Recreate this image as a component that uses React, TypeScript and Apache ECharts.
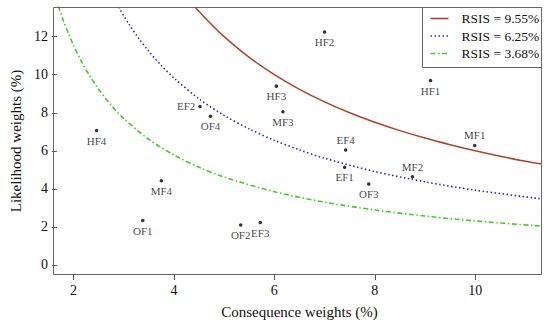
import React, { useEffect, useRef } from "react";
import * as echarts from "echarts";

// Risk factors: consequence weight (%) and likelihood weight (%)
const factorNames = ["HF1", "HF2", "HF3", "HF4", "MF1", "MF2", "MF3", "MF4", "EF1", "EF2", "EF3", "EF4", "OF1", "OF2", "OF3", "OF4"];
const consequence = [9.11, 7.0, 6.04, 2.46, 9.99, 8.75, 6.17, 3.75, 7.4, 4.52, 5.72, 7.42, 3.38, 5.33, 7.88, 4.73];
const likelihood = [9.7, 12.25, 9.4, 7.07, 6.28, 4.63, 8.05, 4.42, 5.14, 8.33, 2.23, 6.04, 2.33, 2.1, 4.25, 7.82];

// Iso-RSIS curves
const redX = [4.42, 4.7, 5.0, 5.5, 6.0, 6.5, 7.0, 7.5, 8.0, 8.5, 9.0, 9.5, 10.0, 10.5, 11.0, 11.33];
const redY = [13.56, 12.77, 12.0, 10.91, 10.0, 9.23, 8.57, 8.0, 7.5, 7.06, 6.67, 6.32, 6.0, 5.71, 5.45, 5.3];
const blueX = [2.9, 3.1, 3.3, 3.5, 3.75, 4.0, 4.5, 5.0, 5.5, 6.0, 6.5, 7.0, 8.0, 9.0, 10.0, 11.33];
const blueY = [13.55, 12.68, 11.91, 11.23, 10.48, 9.83, 8.73, 7.86, 7.15, 6.55, 6.05, 5.61, 4.91, 4.37, 3.93, 3.47];
const greenX = [1.7, 1.8, 1.9, 2.0, 2.15, 2.3, 2.5, 2.75, 3.0, 3.5, 4.0, 4.5, 5.0, 6.0, 7.0, 8.0, 9.0, 10.0, 11.33];
const greenY = [13.6, 12.84, 12.16, 11.55, 10.74, 10.04, 9.24, 8.4, 7.7, 6.6, 5.78, 5.13, 4.62, 3.85, 3.3, 2.89, 2.57, 2.31, 2.04];

const legendNames = ["RSIS = 9.55%", "RSIS = 6.25%", "RSIS = 3.68%"];
const xTicks = [2, 4, 6, 8, 10];
const yTicks = [0, 2, 4, 6, 8, 10, 12];

const labelAbove = new Set(["EF4", "MF2", "MF1"]);
const labelLeft = new Set(["EF2"]);

const FONT = "'Liberation Serif', 'Times New Roman', serif";
const FRAME = "#666666";
const RED = "#b0412a";
const BLUE = "#2a2ad0";
const GREEN = "#44cc22";
const BLUE_DASH = [1.5, 2.5];
const GREEN_DASH = [5, 2.5, 1.5, 2.5];

const GRID = { left: 53, right: 8, top: 7, bottom: 51 };
const W = 550;
const H = 326;

export default function App() {
  const ref = useRef<HTMLDivElement>(null);
  useEffect(() => {
    if (!ref.current) return;
    const chart = echarts.init(ref.current, undefined, { renderer: "svg" });
    const pts = factorNames.map((n, i) => ({
      name: n,
      value: [consequence[i], likelihood[i]],
      label: {
        position: labelLeft.has(n) ? "left" : labelAbove.has(n) ? "top" : "bottom",
      },
    }));
    const zip = (xs: number[], ys: number[]) => xs.map((x, i) => [x, ys[i]]);

    const legendColors = [RED, BLUE, GREEN];
    const legendDash: any[] = [null, BLUE_DASH, GREEN_DASH];
    const lx = 422.5;
    const ly = 7.5;
    const legendChildren: any[] = [
      {
        type: "rect",
        shape: { x: lx, y: ly, width: 119, height: 60 },
        style: { fill: "#fff", stroke: FRAME, lineWidth: 1 },
      },
    ];
    legendNames.forEach((name, i) => {
      const cy = ly + 11 + i * 17.5;
      legendChildren.push({
        type: "line",
        shape: { x1: lx + 8, y1: cy, x2: lx + 26, y2: cy },
        style: { stroke: legendColors[i], lineWidth: 1.6, lineDash: legendDash[i] || undefined },
      });
      legendChildren.push({
        type: "text",
        x: lx + 39,
        y: cy,
        style: {
          text: name,
          font: `13.5px ${FONT}`,
          fill: "#111",
          verticalAlign: "middle",
        },
      });
    });

    const x0 = GRID.left + 0.5;
    const y0 = GRID.top + 0.5;
    const x1 = W - GRID.right - 0.5;
    const y1 = H - GRID.bottom - 0.5;
    const frame = {
      type: "polyline",
      z: 90,
      shape: { points: [[x0, y0], [x1, y0], [x1, y1], [x0, y1], [x0, y0]] },
      style: { stroke: FRAME, lineWidth: 1, fill: null },
    };

    const baseAxisText = { fontFamily: FONT, fontSize: 14, color: "#111" };
    chart.setOption({
      animation: false,
      backgroundColor: "#fff",
      textStyle: { fontFamily: FONT },
      grid: { ...GRID },
      xAxis: {
        type: "value",
        min: 1.67,
        max: 11.33,
        name: "Consequence weights (%)",
        nameLocation: "middle",
        nameGap: 29,
        nameTextStyle: { fontFamily: FONT, fontSize: 15, color: "#111" },
        splitLine: { show: false },
        axisLine: { show: false, onZero: false },
        axisTick: { show: true, inside: false, length: 5, lineStyle: { color: "#555", width: 1 }, customValues: xTicks },
        axisLabel: { ...baseAxisText, margin: 8, customValues: xTicks },
      },
      yAxis: {
        type: "value",
        min: -0.53,
        max: 13.56,
        name: "Likelihood weights (%)",
        nameLocation: "middle",
        nameGap: 30,
        nameTextStyle: { fontFamily: FONT, fontSize: 15, color: "#111" },
        splitLine: { show: false },
        axisLine: { show: false, onZero: false },
        axisTick: { show: true, inside: false, length: 5, lineStyle: { color: "#555", width: 1 }, customValues: yTicks },
        axisLabel: { ...baseAxisText, margin: 9, customValues: yTicks },
      },
      graphic: [frame, { type: "group", z: 100, children: legendChildren }],
      series: [
        {
          name: legendNames[0],
          type: "line",
          data: zip(redX, redY),
          smooth: 0.3,
          symbol: "none",
          clip: true,
          lineStyle: { color: RED, width: 1.5, type: "solid" },
          itemStyle: { color: RED },
        },
        {
          name: legendNames[1],
          type: "line",
          data: zip(blueX, blueY),
          smooth: 0.3,
          symbol: "none",
          clip: true,
          lineStyle: { color: BLUE, width: 1.6, type: BLUE_DASH },
          itemStyle: { color: BLUE },
        },
        {
          name: legendNames[2],
          type: "line",
          data: zip(greenX, greenY),
          smooth: 0.3,
          symbol: "none",
          clip: true,
          lineStyle: { color: GREEN, width: 1.6, type: GREEN_DASH },
          itemStyle: { color: GREEN },
        },
        {
          type: "scatter",
          data: pts,
          symbol: "circle",
          symbolSize: 3.5,
          itemStyle: { color: "#000" },
          label: {
            show: true,
            formatter: "{b}",
            fontFamily: FONT,
            fontSize: 11,
            color: "#111",
            distance: 3,
          },
          z: 5,
        },
      ],
    });
    return () => chart.dispose();
  }, []);
  return <div ref={ref} style={{ position: "absolute", left: 0, top: 0, width: W, height: H }} />;
}
